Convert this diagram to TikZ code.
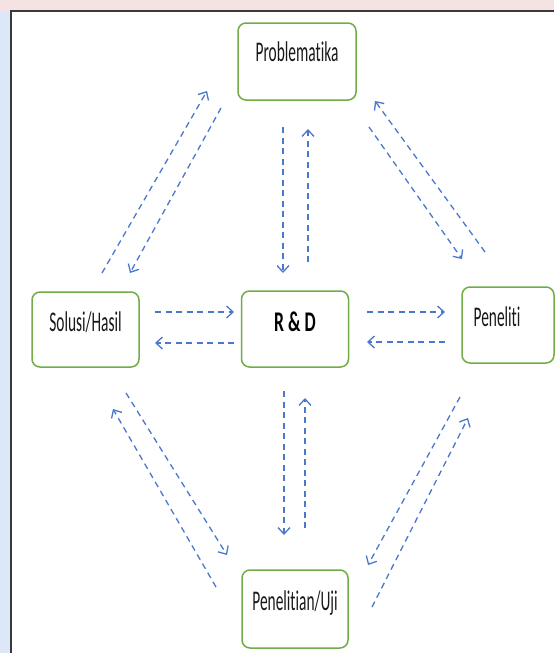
\documentclass[tikz,border=0pt]{standalone}
\usepackage{fontspec}
\usetikzlibrary{arrows.meta}
\newfontfamily\lblfont[FakeStretch=0.54,Ligatures=NoCommon]{Carlito}
\newfontfamily\lblbold[FakeStretch=0.62,Ligatures=NoCommon]{Carlito Bold}
\definecolor{boxgreen}{HTML}{70AD47}
\definecolor{arrblue}{HTML}{4A78CC}
\definecolor{framegray}{HTML}{3A3A3A}
\definecolor{stripblue}{HTML}{DCE8F8}
\definecolor{strippink}{HTML}{F5E3E3}
\tikzset{
  box/.style={draw=boxgreen, line width=1.5pt, rounded corners=8pt, fill=white, inner sep=0pt},
  lbl/.style={font=\lblfont\fontsize{28.5}{30}\selectfont, text=black!90, inner sep=0pt},
  lblb/.style={font=\lblbold\fontsize{28.5}{30}\selectfont, text=black, inner sep=0pt},
  flow/.style={draw=arrblue, line width=1.3pt, dash pattern=on 6pt off 4.5pt,
    -{Straight Barb[length=6.5pt,width=12pt,line width=1.3pt]}},
  frameline/.style={draw=framegray, line width=1.6pt}
}
\begin{document}
\begin{tikzpicture}[x=1pt,y=-1pt]
\useasboundingbox (0,0) rectangle (554,653);
\fill[white] (0,0) rectangle (554,653);
\fill[stripblue] (0,0) rectangle (11,653);
\fill[strippink] (0,0) rectangle (554,11);
\draw[frameline] (11,653) -- (11,11) -- (554,11);

% boxes
\node[box, minimum width=118pt, minimum height=77pt] (prob) at (297,61.5) {};
\node[lbl] (probt) at (297,52) {Problematika};
\node[box, minimum width=107pt, minimum height=75pt] (sol) at (85.5,329.5) {};
\node[lbl] (solt) at (85.5,322) {Solusi/Hasil};
\node[box, minimum width=107pt, minimum height=76pt] (rd) at (295,329) {};
\node[lblb] (rdt) at (295,322) {R \& D};
\node[box, minimum width=92pt, minimum height=76pt] (pen) at (508,325) {};
\node[lbl] (pent) at (497,317) {Peneliti};
\node[box, minimum width=106pt, minimum height=78pt] (uji) at (295,609) {};
\node[lbl] (ujit) at (295,603) {Penelitian/Uji};

% arrow end points
\coordinate (a1) at (102,273); \coordinate (a2) at (207,91);
\coordinate (b1) at (221,108); \coordinate (b2) at (130,273);
\coordinate (c1) at (485,252); \coordinate (c2) at (375,101);
\coordinate (d1) at (369,127); \coordinate (d2) at (462,259);
\coordinate (v1) at (283,127); \coordinate (v2) at (283,273);
\coordinate (w1) at (308,262); \coordinate (w2) at (308,129);
\coordinate (v3) at (284,391); \coordinate (v4) at (284,535);
\coordinate (w3) at (305,528); \coordinate (w4) at (305,398);
\coordinate (h1) at (155,312); \coordinate (h2) at (234,312);
\coordinate (h3) at (234,343); \coordinate (h4) at (155,343);
\coordinate (h5) at (367,312); \coordinate (h6) at (445,312);
\coordinate (h7) at (445,342); \coordinate (h8) at (367,342);
\coordinate (e1) at (126,393); \coordinate (e2) at (227,555);
\coordinate (f1) at (216,587); \coordinate (f2) at (113,409);
\coordinate (g1) at (460,397); \coordinate (g2) at (368,565);
\coordinate (k1) at (372,607); \coordinate (k2) at (468,418);

\draw[flow] (a1) -- (a2);
\draw[flow] (b1) -- (b2);
\draw[flow] (c1) -- (c2);
\draw[flow] (d1) -- (d2);
\draw[flow] (v1) -- (v2);
\draw[flow] (w1) -- (w2);
\draw[flow] (v3) -- (v4);
\draw[flow] (w3) -- (w4);
\draw[flow] (h1) -- (h2);
\draw[flow] (h3) -- (h4);
\draw[flow] (h5) -- (h6);
\draw[flow] (h7) -- (h8);
\draw[flow] (e1) -- (e2);
\draw[flow] (f1) -- (f2);
\draw[flow] (g1) -- (g2);
\draw[flow] (k1) -- (k2);
\end{tikzpicture}
\end{document}
